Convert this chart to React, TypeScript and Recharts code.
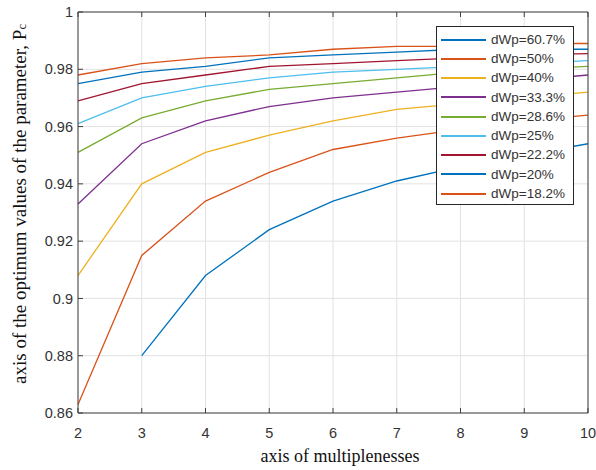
import { LineChart, Line, XAxis, YAxis, CartesianGrid, Legend, Label } from "recharts";

// multipleness values on the x axis
const X_VALUES = [2, 3, 4, 5, 6, 7, 8, 9, 10];
const Y_TICKS = [0.86, 0.88, 0.9, 0.92, 0.94, 0.96, 0.98, 1];

const SERIES_NAMES = [
  "dWp=60.7%",
  "dWp=50%",
  "dWp=40%",
  "dWp=33.3%",
  "dWp=28.6%",
  "dWp=25%",
  "dWp=22.2%",
  "dWp=20%",
  "dWp=18.2%",
];

const COLORS = [
  "#0072BD",
  "#D95319",
  "#EDB120",
  "#7E2F8E",
  "#77AC30",
  "#4DBEEE",
  "#A2142F",
  "#0072BD",
  "#D95319",
];

// optimum Pc per multipleness
const dwp607 = [null, 0.88, 0.908, 0.924, 0.934, 0.941, 0.946, 0.95, 0.954];
const dwp50 = [0.863, 0.915, 0.934, 0.944, 0.952, 0.956, 0.959, 0.962, 0.964];
const dwp40 = [0.908, 0.94, 0.951, 0.957, 0.962, 0.966, 0.968, 0.97, 0.972];
const dwp333 = [0.933, 0.954, 0.962, 0.967, 0.97, 0.972, 0.974, 0.976, 0.978];
const dwp286 = [0.951, 0.963, 0.969, 0.973, 0.975, 0.977, 0.979, 0.98, 0.981];
const dwp25 = [0.961, 0.97, 0.974, 0.977, 0.979, 0.98, 0.981, 0.982, 0.983];
const dwp222 = [0.969, 0.975, 0.978, 0.981, 0.982, 0.983, 0.984, 0.985, 0.9855];
const dwp20 = [0.975, 0.979, 0.981, 0.984, 0.985, 0.986, 0.987, 0.987, 0.987];
const dwp182 = [0.978, 0.982, 0.984, 0.985, 0.987, 0.988, 0.988, 0.989, 0.989];

const SERIES = [dwp607, dwp50, dwp40, dwp333, dwp286, dwp25, dwp222, dwp20, dwp182];

const data = X_VALUES.map((x, i) => {
  const row: Record<string, number | null> = { x };
  SERIES.forEach((s, k) => {
    row["s" + k] = s[i];
  });
  return row;
});

const AXIS = "#404040";
const TEXT = "#333";
const SANS = "'Liberation Sans', Arial, sans-serif";
const SERIF = "'Liberation Serif', 'Times New Roman', serif";

function LegendBox() {
  return (
    <div
      style={{
        boxSizing: "border-box",
        width: 138,
        height: 179,
        border: "1px solid #262626",
        background: "#fff",
        paddingTop: 3,
        fontFamily: SANS,
        fontSize: 13.5,
        color: TEXT,
      }}
    >
      {SERIES_NAMES.map((name, k) => (
        <div key={name} style={{ display: "flex", alignItems: "center", height: 19.25 }}>
          <svg width={50} height={6} style={{ marginLeft: 4, flex: "none" }}>
            <line x1={0} y1={3} x2={45} y2={3} stroke={COLORS[k]} strokeWidth={1.8} />
          </svg>
          <span style={{ lineHeight: 1 }}>{name}</span>
        </div>
      ))}
    </div>
  );
}

export default function App() {
  return (
    <div style={{ position: "absolute", left: 0, top: 0, width: 596, height: 470, background: "#fff" }}>
      <LineChart width={596} height={470} data={data} margin={{ top: 0, right: 0, bottom: 0, left: 0 }}>
        <CartesianGrid stroke="#e2e2e2" />
        <XAxis
          dataKey="x"
          type="number"
          domain={[2, 10]}
          ticks={X_VALUES}
          height={57}
          tickSize={-5}
          tickMargin={20}
          axisLine={{ stroke: AXIS }}
          tickLine={{ stroke: AXIS }}
          tick={{ fill: TEXT, fontSize: 14.5, fontFamily: SANS }}
        >
          <Label
            content={() => (
              <text x={340} y={462} textAnchor="middle" fontFamily={SERIF} fontSize={18} fill="#111">
                axis of multiplenesses
              </text>
            )}
          />
        </XAxis>
        <XAxis
          xAxisId="top"
          orientation="top"
          dataKey="x"
          type="number"
          domain={[2, 10]}
          ticks={X_VALUES}
          height={12}
          tickSize={-5}
          axisLine={{ stroke: AXIS }}
          tickLine={{ stroke: AXIS }}
          tickFormatter={() => ""}
        />
        <YAxis
          type="number"
          domain={[0.86, 1]}
          ticks={Y_TICKS}
          width={78}
          tickSize={-5}
          tickMargin={10}
          axisLine={{ stroke: AXIS }}
          tickLine={{ stroke: AXIS }}
          tick={{ fill: TEXT, fontSize: 14.5, fontFamily: SANS }}
        >
          <Label
            content={() => (
              <text
                transform="translate(26,204) rotate(-90)"
                textAnchor="middle"
                fontFamily={SERIF}
                fontSize={19}
                fill="#111"
              >
                axis of the optimum values of the parameter, P
                <tspan fontSize={12.5}>c</tspan>
              </text>
            )}
          />
        </YAxis>
        <YAxis
          yAxisId="right"
          orientation="right"
          type="number"
          domain={[0.86, 1]}
          ticks={Y_TICKS}
          width={8}
          tickSize={-5}
          axisLine={{ stroke: AXIS }}
          tickLine={{ stroke: AXIS }}
          tickFormatter={() => ""}
        />
        {SERIES_NAMES.map((name, k) => (
          <Line
            key={name}
            dataKey={"s" + k}
            name={name}
            stroke={COLORS[k]}
            strokeWidth={1.3}
            dot={false}
            activeDot={false}
            connectNulls={false}
            isAnimationActive={false}
          />
        ))}
        <Legend
          layout="vertical"
          align="center"
          verticalAlign="middle"
          wrapperStyle={{ left: 436, top: 26, width: "auto" }}
          content={() => <LegendBox />}
        />
      </LineChart>
    </div>
  );
}
